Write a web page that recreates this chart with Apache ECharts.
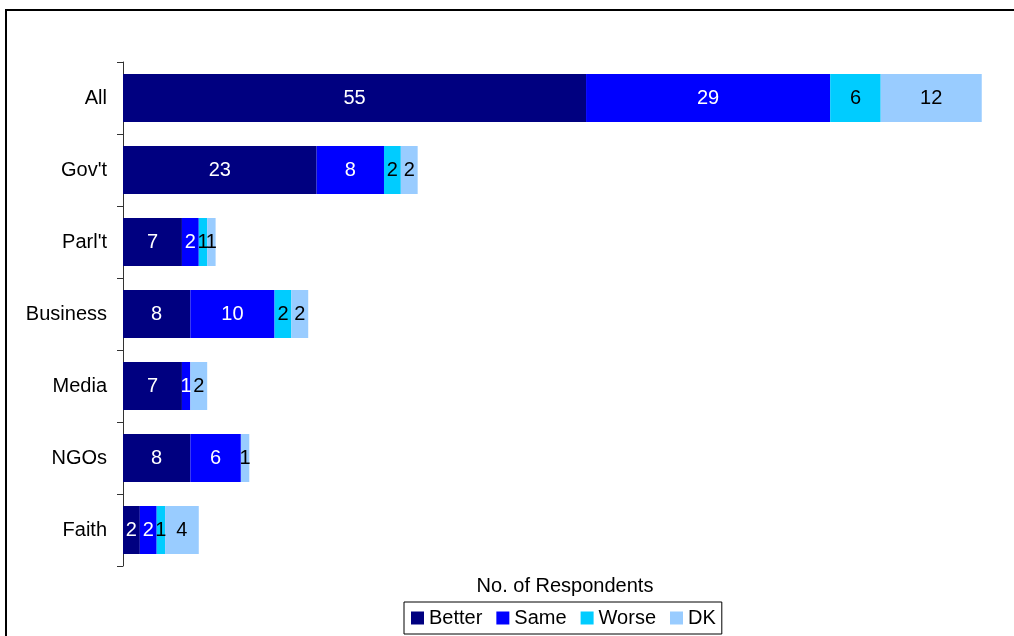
<!DOCTYPE html>
<html>
<head>
<meta charset="utf-8">
<script src="https://cdn.jsdelivr.net/npm/echarts@6/dist/echarts.min.js"></script>
<style>html,body{margin:0;padding:0;background:#fff;}#c{width:1014px;height:636px;}</style>
</head>
<body>
<div id="c"></div>
<script>
const categories = ["All", "Gov't", "Parl't", "Business", "Media", "NGOs", "Faith"];
const better = [55, 23, 7, 8, 7, 8, 2];
const same = [29, 8, 2, 10, 1, 6, 2];
const worse = [6, 2, 1, 2, 0, 0, 1];
const dk = [12, 2, 1, 2, 2, 1, 4];
const seriesNames = ["Better", "Same", "Worse", "DK"];
const colors = ["#000080", "#0000FF", "#00CCFF", "#99CCFF"];
const labelColors = ["#ffffff", "#ffffff", "#000000", "#000000"];
const dataSets = [better, same, worse, dk];

const font = "'Liberation Sans', Arial, sans-serif";
const chart = echarts.init(document.getElementById('c'));
chart.setOption({
  animation: false,
  backgroundColor: '#ffffff',
  textStyle: { fontFamily: font },
  graphic: [{
    type: 'rect', shape: { x: 6, y: 10, width: 1100, height: 700 },
    style: { fill: 'none', stroke: '#000', lineWidth: 2 }, silent: true, z: 100
  }],
  grid: { left: 123, right: 7, top: 62, bottom: 70 },
  legend: {
    left: 404, top: 602,
    data: seriesNames,
    itemWidth: 13, itemHeight: 13, itemGap: 14,
    icon: 'rect',
    borderColor: '#000', borderWidth: 1, padding: [6, 6, 6, 7],
    textStyle: { fontSize: 20, color: '#000', fontFamily: font }
  },
  xAxis: {
    type: 'value', min: 0, max: 105,
    name: 'No. of Respondents', nameLocation: 'middle', nameGap: 10,
    nameTextStyle: { fontSize: 20, color: '#000', fontFamily: font, verticalAlign: 'top' },
    axisLine: { show: false }, axisTick: { show: false },
    axisLabel: { show: false }, splitLine: { show: false }
  },
  yAxis: {
    type: 'category', data: categories, inverse: true,
    axisLine: { show: true, lineStyle: { color: '#333', width: 1 } },
    axisTick: { show: true, length: 6, lineStyle: { color: '#333' } },
    axisLabel: { fontSize: 20, color: '#000', margin: 16, fontFamily: font }
  },
  series: dataSets.map((d, i) => ({
    name: seriesNames[i], type: 'bar', stack: 'total',
    barWidth: 48,
    data: d,
    itemStyle: { color: colors[i] },
    label: {
      show: true, position: 'inside', fontSize: 20, color: labelColors[i],
      fontFamily: font,
      formatter: p => p.value === 0 ? '' : String(p.value)
    }
  }))
});
</script>
</body>
</html>
